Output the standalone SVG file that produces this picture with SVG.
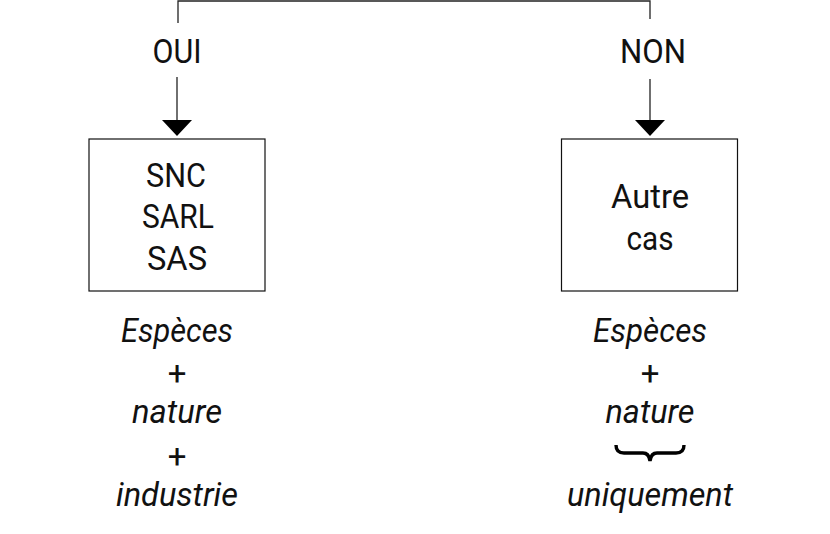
<svg xmlns="http://www.w3.org/2000/svg" width="830" height="534" viewBox="0 0 830 534">
<style>
.t{font-family:Roboto,"Liberation Sans",sans-serif;font-size:33px;fill:#111;text-anchor:middle}
.i{font-style:italic}
.box{fill:#fff;stroke:#111;stroke-width:1.2}
.ln{fill:none;stroke:#222;stroke-width:1.3}
.hd{fill:#000}
</style>
<rect width="830" height="534" fill="#fff"/>
<g id="connectors">
<polyline class="ln" points="178,23 178,1 650,1 650,19"/>
<line class="ln" x1="177" y1="77" x2="177" y2="121"/>
<polygon class="hd" points="162,120 192,120 177,136"/>
<line class="ln" x1="650" y1="79" x2="650" y2="121"/>
<polygon class="hd" points="635,120 665,120 650,136"/>
</g>
<g id="label-oui"><text class="t" x="177" y="63" textLength="49" lengthAdjust="spacingAndGlyphs">OUI</text></g>
<g id="label-non"><text class="t" x="653" y="63" textLength="66" lengthAdjust="spacingAndGlyphs">NON</text></g>
<g id="node-snc">
<rect class="box" x="89" y="139" width="176" height="152"/>
<text class="t" x="176" y="187" textLength="60" lengthAdjust="spacingAndGlyphs">SNC</text>
<text class="t" x="178" y="228" textLength="72" lengthAdjust="spacingAndGlyphs">SARL</text>
<text class="t" x="177" y="270" textLength="60" lengthAdjust="spacingAndGlyphs">SAS</text>
</g>
<g id="node-autre">
<rect class="box" x="561.5" y="139" width="176" height="152"/>
<text class="t" x="650" y="208" textLength="78" lengthAdjust="spacingAndGlyphs">Autre</text>
<text class="t" x="650" y="250" textLength="47" lengthAdjust="spacingAndGlyphs">cas</text>
</g>
<g id="result-left">
<text class="t i" x="177" y="342" textLength="112" lengthAdjust="spacingAndGlyphs">Espèces</text>
<text class="t" x="177" y="385">+</text>
<text class="t i" x="177" y="423" textLength="90" lengthAdjust="spacingAndGlyphs">nature</text>
<text class="t" x="177" y="468">+</text>
<text class="t i" x="177" y="506" textLength="122" lengthAdjust="spacingAndGlyphs">industrie</text>
</g>
<g id="result-right">
<text class="t i" x="650" y="342" textLength="114" lengthAdjust="spacingAndGlyphs">Espèces</text>
<text class="t" x="650" y="385">+</text>
<text class="t i" x="650" y="423" textLength="89" lengthAdjust="spacingAndGlyphs">nature</text>
<path d="M616,445 Q616,453 624,453 L643,453 Q649,453 650,461 Q651,453 657,453 L676,453 Q684,453 684,445" fill="none" stroke="#000" stroke-width="3.4"/>
<text class="t i" x="650" y="506" textLength="166" lengthAdjust="spacingAndGlyphs">uniquement</text>
</g>
</svg>
